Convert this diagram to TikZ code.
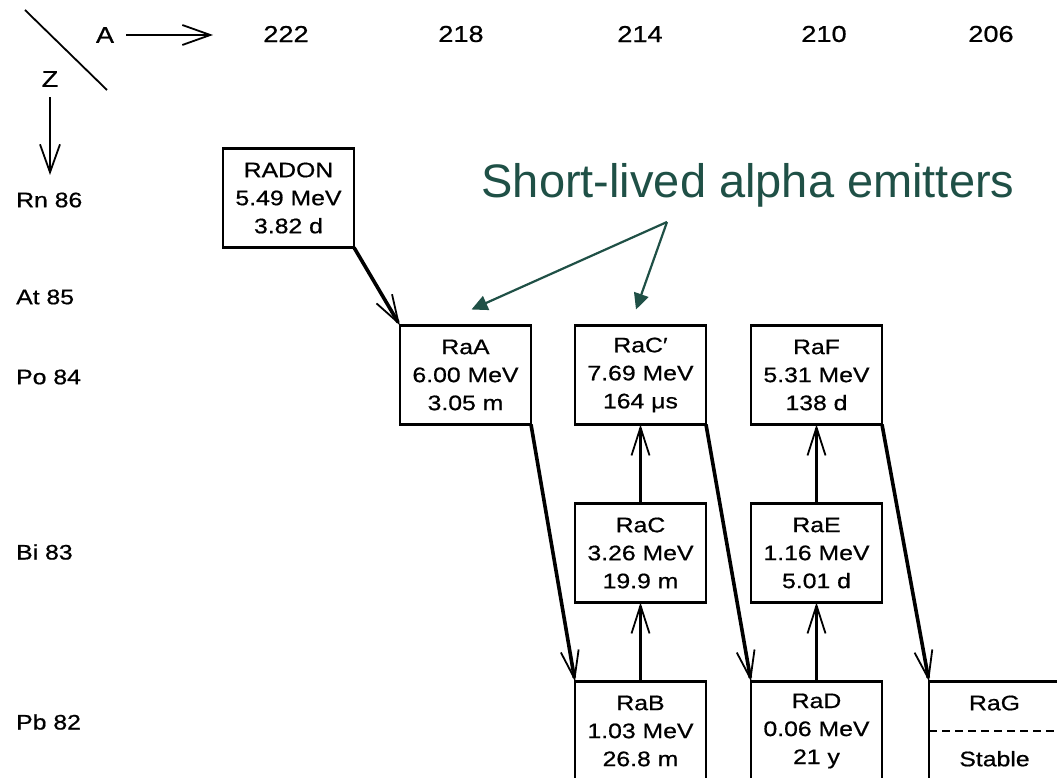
\documentclass[tikz,border=0pt]{standalone}
\usepackage{fontspec}
\setmainfont{Liberation Sans}
\newfontfamily\scanfont{Liberation Sans}[FakeStretch=1.18,FakeBold=0.7]
\usepackage{xcolor}
\definecolor{verde}{HTML}{1F5046}
\usetikzlibrary{positioning,arrows.meta}

\begin{document}
\begin{tikzpicture}[
  x=1pt, y=-1pt,
  font=\scanfont\fontsize{21}{28}\selectfont,
  node distance=79pt and 45pt,
  nucleo/.style={rectangle, draw, line width=2.2pt, minimum width=131pt, minimum height=99pt, inner sep=0pt, outer sep=0pt, align=center},
  eje/.style={inner sep=0pt, font=\scanfont\fontsize{23}{28}\selectfont},
  fila/.style={inner sep=0pt, anchor=west},
  desint/.style={-{Straight Barb[length=28pt,width=18pt,line width=1.8pt]}, line width=3.6pt},
  guia/.style={-{Straight Barb[length=28pt,width=20pt,line width=1.8pt]}, line width=2.4pt},
  nota/.style={-{Triangle[length=16pt,width=15pt]}, draw=verde, line width=2.2pt}
]
\path[use as bounding box, fill=white] (0,0) rectangle (1057,778);
\node[eje] (A) at (105,35) {A};
\node[eje] (Z) at (50,79) {Z};
\coordinate (Afin) at (213,35);
\coordinate (Zfin) at (50,175);
\draw[line width=1.8pt] (25,10) -- (107,90);
\draw[guia, shorten <=12pt] (A) -- (Afin);
\draw[guia, shorten <=10pt] (Z) -- (Zfin);
\foreach \m/\x in {222/286,218/461,214/640,210/824,206/991}
  \node[eje] (m\m) at (\x,34) {\m};
\foreach \n/\s/\y in {86/Rn/200,85/At/297,84/Po/377,83/Bi/552,82/Pb/722}
  \node[fila] (z\n) at (16,\y) {\s\ \n};
\node[nucleo] (RaA) at (465.5,375) {RaA\\6.00 MeV\\3.05 m};
\node[nucleo, above left=78pt and 46pt of RaA] (RADON) {RADON\\5.49 MeV\\3.82 d};
\node[nucleo, right=44pt of RaA] (RaCp) {RaC′\\7.69 MeV\\164 μs};
\node[nucleo, right=of RaCp] (RaF) {RaF\\5.31 MeV\\138 d};
\node[nucleo, below=of RaCp] (RaC) {RaC\\3.26 MeV\\19.9 m};
\node[nucleo, below=of RaF] (RaE) {RaE\\1.16 MeV\\5.01 d};
\node[nucleo, below=of RaC] (RaB) {RaB\\1.03 MeV\\26.8 m};
\node[nucleo, below=of RaE] (RaD) {RaD\\0.06 MeV\\21 y};
\node[nucleo, right=47pt of RaD] (RaG) {RaG\\[28pt]Stable};
\draw[dash pattern=on 8pt off 5pt, line width=1.5pt] (RaG.west) -- (RaG.east);
\draw[desint] (RADON.south east) -- (RaA.north west);
\draw[desint] (RaA.south east) -- (RaB.north west);
\draw[desint] (RaB) -- (RaC);
\draw[desint] (RaC) -- (RaCp);
\draw[desint] (RaCp.south east) -- (RaD.north west);
\draw[desint] (RaD) -- (RaE);
\draw[desint] (RaE) -- (RaF);
\draw[desint] (RaF.south east) -- (RaG.north west);
\node[text=verde, font=\fontsize{47}{56}\selectfont, anchor=base] (rotulo) at (748,198) {Short-lived alpha emitters};
\coordinate (vertice) at (667,222);
\draw[nota] (vertice) -- ([xshift=6pt,yshift=16pt]RaA.north);
\draw[nota] (vertice) -- ([xshift=-4.5pt,yshift=16pt]RaCp.north);
\end{tikzpicture}
\end{document}
